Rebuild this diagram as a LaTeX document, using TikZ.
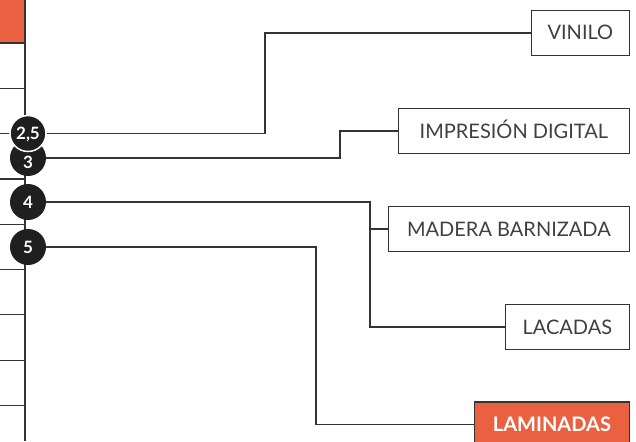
\documentclass[tikz,border=0pt]{standalone}
\usepackage{fontspec}
\setmainfont{Lato}
\usetikzlibrary{positioning,backgrounds}
\definecolor{brandorange}{RGB}{233,97,64}
\definecolor{inkgray}{RGB}{51,51,51}
\tikzset{
  link/.style={draw=inkgray, line width=1.2pt},
  tagbox/.style={draw=inkgray, line width=1.2pt, fill=white, text=black!75, anchor=east, minimum height=45pt, inner sep=0pt, text height=14pt, text depth=0pt, font=\fontsize{20}{24}\selectfont},
  tagbox2/.style={tagbox, fill=brandorange, text=white, font=\fontsize{20}{24}\selectfont\bfseries},
  marker/.style={circle, fill=black!88, text=white, minimum size=36pt, inner sep=0pt, text height=12pt, text depth=0pt, font=\fontsize{17}{19}\selectfont\bfseries}
}

\begin{document}
\begin{tikzpicture}[x=1pt, y=-1pt]
  \useasboundingbox (0,0) rectangle (636,441);

  % edge of the table on the left
  \fill[brandorange] (0,0) rectangle (25,43);
  \foreach \i in {0,...,8}
    \draw[link] (0,43+45.3*\i) -- (25,43+45.3*\i);
  \draw[link] (25,0) -- (25,441);

  % finishes
  \node[tagbox, minimum width=98pt] (vinilo) at (630,33) {VINILO};
  \node[tagbox, minimum width=231pt] (impresion) at (630,131) {IMPRESIÓN DIGITAL};
  \node[tagbox, minimum width=241pt] (madera) at (630,229) {MADERA BARNIZADA};
  \node[tagbox, minimum width=124pt] (lacadas) at (630,327) {LACADAS};
  \node[tagbox2, minimum width=155pt] (laminadas) at (630,424.5) {LAMINADAS};

  % markers
  \node[marker] (m3) at (28,158) {\raisebox{-4pt}{3}};
  \node[marker, draw=white, line width=1.5pt] (m25) at (28,133.5) {2,5};
  \node[marker] (m4) at (28,202) {4};
  \node[marker] (m5) at (28,247) {5};

  \coordinate (bend4) at (370,202);
  \begin{scope}[on background layer]
    \draw[link] (m25) -- (265,133.5) |- (vinilo);
    \draw[link] (m3) -- (340,158) |- (impresion);
    \draw[link] (m4) -- (bend4) |- (lacadas);
    \draw[link] (madera) -- (madera -| bend4);
    \draw[link] (m5) -- (316,247) |- (laminadas);
  \end{scope}
\end{tikzpicture}
\end{document}
